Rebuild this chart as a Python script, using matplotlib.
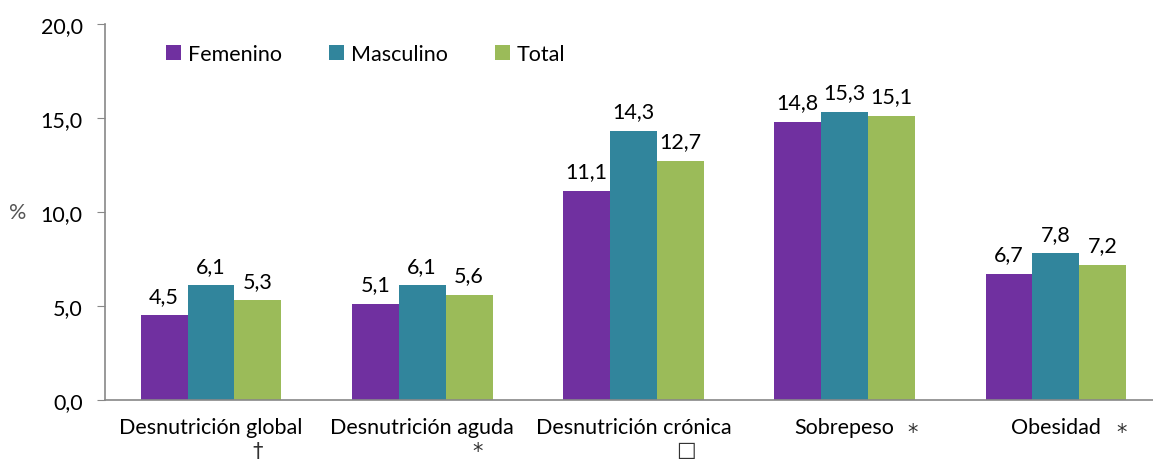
import matplotlib.pyplot as plt
import numpy as np
from matplotlib.ticker import FuncFormatter
import matplotlib.transforms as mtransforms

plt.rcParams['font.family'] = ['Lato', 'DejaVu Sans']

categories = ['Desnutrición global', 'Desnutrición aguda', 'Desnutrición crónica', 'Sobrepeso', 'Obesidad']
marks = ['†', '*', '□', '*', '*']
femenino = [4.5, 5.1, 11.1, 14.8, 6.7]
masculino = [6.1, 6.1, 14.3, 15.3, 7.8]
total = [5.3, 5.6, 12.7, 15.1, 7.2]

colors = ['#7030A0', '#31859C', '#9BBB59']
series = [('Femenino', femenino), ('Masculino', masculino), ('Total', total)]

fs = 15.5
fig = plt.figure(figsize=(11.53, 4.6), dpi=100)
ax = fig.add_axes([0.091, 0.128, 0.909, 0.818])

x = np.arange(len(categories))
w = 0.222
for i, (name, vals) in enumerate(series):
    bars = ax.bar(x + (i - 1) * w, vals, w, color=colors[i], label=name)
    for b, v in zip(bars, vals):
        ax.annotate(f'{v:.1f}'.replace('.', ','), (b.get_x() + b.get_width() / 2, v),
                    xytext=(0, 7), textcoords='offset points', ha='center', va='bottom',
                    fontsize=fs, color='#000000')

ax.set_ylim(0, 20)
ax.set_yticks([0, 5, 10, 15, 20])
ax.yaxis.set_major_formatter(FuncFormatter(lambda v, p: f'{v:.1f}'.replace('.', ',')))
ax.set_xlim(-0.502, 4.46)
ax.set_xticks(x)
ax.set_xticklabels(categories, fontsize=fs)
ax.tick_params(axis='x', length=0, pad=12)
ax.tick_params(axis='y', labelsize=fs, length=6, color='#888888', pad=10)

for s in ['top', 'right']:
    ax.spines[s].set_visible(False)
for s in ['left', 'bottom']:
    ax.spines[s].set_color('#888888')
    ax.spines[s].set_linewidth(1.2)

# significance marks next to the category labels
trans = mtransforms.blended_transform_factory(ax.transData, fig.transFigure)
offsets = [0.22, 0.26, 0.25, 0.32, 0.31]
ys = [0.018, 0.018, 0.022, 0.058, 0.058]
for i, (m, o) in enumerate(zip(marks, offsets)):
    ax.text(i + o, ys[i], m, transform=trans, ha='center', va='center', fontsize=15,
            family=['DejaVu Sans'], color='#333333')

fig.text(0.008, 0.537, '%', fontsize=fs, color='#555555', ha='left', va='center')

ax.legend(loc='upper left', bbox_to_anchor=(0.04, 0.997), ncol=3, frameon=False,
          fontsize=fs, handlelength=0.7, handleheight=0.7, handletextpad=0.3,
          columnspacing=2.2)

fig.savefig('out.png', dpi=100)
